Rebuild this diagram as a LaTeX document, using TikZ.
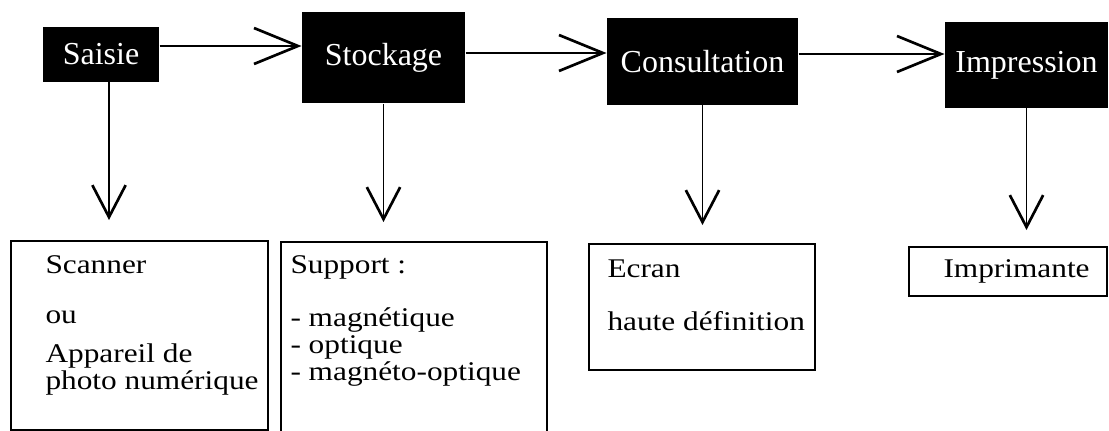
\documentclass[tikz,border=0pt]{standalone}
\usepackage{fontspec}
\setmainfont{Liberation Serif}
\newfontfamily\bodyfont[FakeStretch=1.16]{Liberation Serif}
\usetikzlibrary{arrows.meta}

\tikzset{every picture/.style={line width=0.75pt}}
\tikzset{
  titlebox/.style={fill=black,text=white,inner sep=0.75pt,font=\fontsize{24}{28}\selectfont},
  itembox/.style={draw,line width=1.5pt,anchor=north west,inner sep=0pt},
  itemtext/.style={anchor=north west,inner sep=0pt,align=left,font=\bodyfont\fontsize{20.25}{20.25}\selectfont},
  rightarr/.style={line width=1.4pt,-{Straight Barb[length=33pt,width=27pt,line width=2pt]}},
  downarr/.style={line width=1.4pt,-{Straight Barb[length=24pt,width=25pt,line width=2pt]}}
}

\begin{document}
\begin{tikzpicture}[x=0.75pt,y=0.75pt,yscale=-1,xscale=1]
\clip (0,0) rectangle (1109,431);

%Shape: Rectangle [titles]
\node (saisie) at (101,54.5) [titlebox,minimum width=87pt,minimum height=41.25pt] {Saisie};
\node (stockage) at (383.5,58) [titlebox,minimum width=122.25pt,minimum height=68.25pt] {Stockage};
\node (consult) at (702.5,61.5) [titlebox,minimum width=143.25pt,minimum height=65.25pt] {Consultation};
\node (impress) at (1026.5,65) [titlebox,minimum width=122.25pt,minimum height=64.5pt] {Impression};

%Shape: Rectangle [boxes below]
\node (scanbox) at (10,240) [itembox,minimum width=192.75pt,minimum height=141.75pt] {};
\node (suppbox) at (280,241) [itembox,minimum width=199.5pt,minimum height=149.25pt] {};
\node (ecranbox) at (588,243) [itembox,minimum width=169.5pt,minimum height=94.5pt] {};
\node (imprbox) at (908,246) [itembox,minimum width=148.5pt,minimum height=36.75pt] {};

%Coordinates [arrow rows and tips]
\coordinate (r1) at (0,46);
\coordinate (r2) at (0,53);
\coordinate (r3) at (0,54);
\coordinate (t1) at (109,220);
\coordinate (t2) at (383.5,222);
\coordinate (t3) at (702.5,225);
\coordinate (t4) at (1026.5,230);

%Straight Lines [arrows]
\draw[rightarr] (saisie.east |- r1) -- (stockage.west |- r1);
\draw[rightarr] (stockage.east |- r2) -- (consult.west |- r2);
\draw[rightarr] (consult.east |- r3) -- (impress.west |- r3);
\draw[downarr] (saisie.south -| t1) -- (t1);
\draw[downarr] (stockage.south) -- (t2);
\draw[downarr] (consult.south) -- (t3);
\draw[downarr] (impress.south) -- (t4);

% Text Node
\node (scantext) at (45,255.6) [itemtext] {Scanner\\[17.25pt]ou\\[9pt]Appareil de\\photo numérique};
% Text Node
\node (supptext) at (290,255.6) [itemtext] {Support :\\[19.5pt]- magnétique\\- optique\\- magnéto-optique};
% Text Node
\node (ecrantext) at (607,259) [itemtext] {Ecran\\[19.5pt]haute définition};
% Text Node
\node (imprtext) at (943,259.6) [itemtext] {Imprimante};
\end{tikzpicture}
\end{document}
